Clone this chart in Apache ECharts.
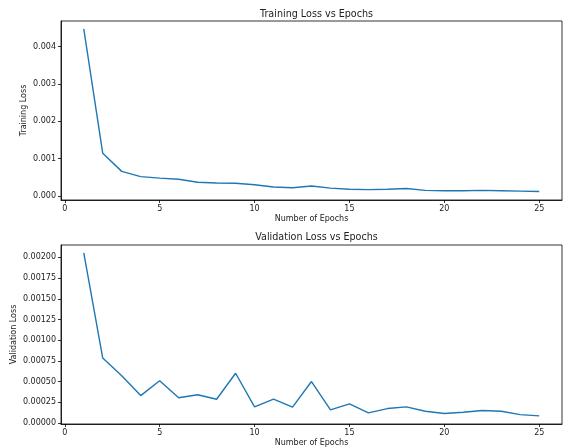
<!DOCTYPE html>
<html><head><meta charset="utf-8">
<script src="https://cdn.jsdelivr.net/npm/echarts@6/dist/echarts.min.js"></script>
<style>html,body{margin:0;padding:0;background:#fff}#c{width:563px;height:448px}</style>
</head><body><div id="c"></div>
<script>
const epochs = [1,2,3,4,5,6,7,8,9,10,11,12,13,14,15,16,17,18,19,20,21,22,23,24,25];
const trainingLoss = [0.00448,0.001145,0.00066,0.00052,0.00048,0.00045,0.00037,0.00035,0.00034,0.00030,0.00024,0.00022,0.00027,0.00021,0.00018,0.00017,0.00018,0.00020,0.00015,0.00014,0.00014,0.00015,0.00014,0.00013,0.00012];
const validationLoss = [0.002056,0.000783,0.00057,0.00033,0.00051,0.000303,0.00034,0.000286,0.0006,0.000194,0.000286,0.00019,0.0005,0.000157,0.00023,0.000121,0.000173,0.000194,0.00014,0.000113,0.000128,0.000149,0.00014,0.0001,0.000085];
const xTicks = [0,5,10,15,20,25];
const trainTicks = [0,0.001,0.002,0.003,0.004];
const valTicks = [0,0.00025,0.0005,0.00075,0.001,0.00125,0.0015,0.00175,0.002];

const FONT = 'DejaVu Sans';
const TXT = '#222';
const chart = echarts.init(document.getElementById('c'), null, {renderer:'canvas'});
function xAxis(gi){
  return {
    type:'value', gridIndex:gi, min:-0.2, max:26.2,
    name:'Number of Epochs', nameLocation:'middle', nameGap:15, nameMoveOverlap:false,
    nameTextStyle:{fontFamily:FONT,fontSize:8,color:TXT},
    axisLine:{show:true,onZero:false,lineStyle:{color:'#000',width:0.8}},
    axisTick:{show:true,length:3,customValues:xTicks,lineStyle:{color:'#000',width:0.8}},
    axisLabel:{customValues:xTicks,fontFamily:FONT,fontSize:8,color:TXT,margin:5},
    splitLine:{show:false}
  };
}
function yAxis(gi,name,min,max,ticks,dec,gap){
  return {
    type:'value', gridIndex:gi, min:min, max:max,
    name:name, nameLocation:'middle', nameGap:gap, nameMoveOverlap:false,
    nameTextStyle:{fontFamily:FONT,fontSize:8,color:TXT},
    axisLine:{show:true,onZero:false,lineStyle:{color:'#000',width:0.8}},
    axisTick:{show:true,length:3,customValues:ticks,lineStyle:{color:'#000',width:0.8}},
    axisLabel:{customValues:ticks,fontFamily:FONT,fontSize:8,color:TXT,margin:5,formatter:v=>Number(v).toFixed(dec)},
    splitLine:{show:false}
  };
}
chart.setOption({
  animation:false,
  backgroundColor:'#fff',
  title:[
    {text:'Training Loss vs Epochs',left:311.5,top:4,textAlign:'center',textStyle:{fontFamily:FONT,fontSize:9.6,fontWeight:'normal',color:TXT}},
    {text:'Validation Loss vs Epochs',left:311.5,top:227,textAlign:'center',textStyle:{fontFamily:FONT,fontSize:9.6,fontWeight:'normal',color:TXT}}
  ],
  grid:[
    {left:61,top:21,width:501,height:179,show:true,borderColor:'#000',borderWidth:0.8,containLabel:false,outerBoundsMode:'none'},
    {left:61,top:245,width:501,height:179,show:true,borderColor:'#000',borderWidth:0.8,containLabel:false,outerBoundsMode:'none'}
  ],
  xAxis:[xAxis(0),xAxis(1)],
  yAxis:[
    yAxis(0,'Training Loss',-0.000107,0.00469,trainTicks,3,33),
    yAxis(1,'Validation Loss',-0.0000135,0.00215,valTicks,5,43)
  ],
  series:[
    {type:'line',xAxisIndex:0,yAxisIndex:0,showSymbol:false,symbol:'none',
     lineStyle:{color:'#1f77b4',width:1.4},data:epochs.map((e,i)=>[e,trainingLoss[i]])},
    {type:'line',xAxisIndex:1,yAxisIndex:1,showSymbol:false,symbol:'none',
     lineStyle:{color:'#1f77b4',width:1.4},data:epochs.map((e,i)=>[e,validationLoss[i]])}
  ]
});
</script></body></html>
